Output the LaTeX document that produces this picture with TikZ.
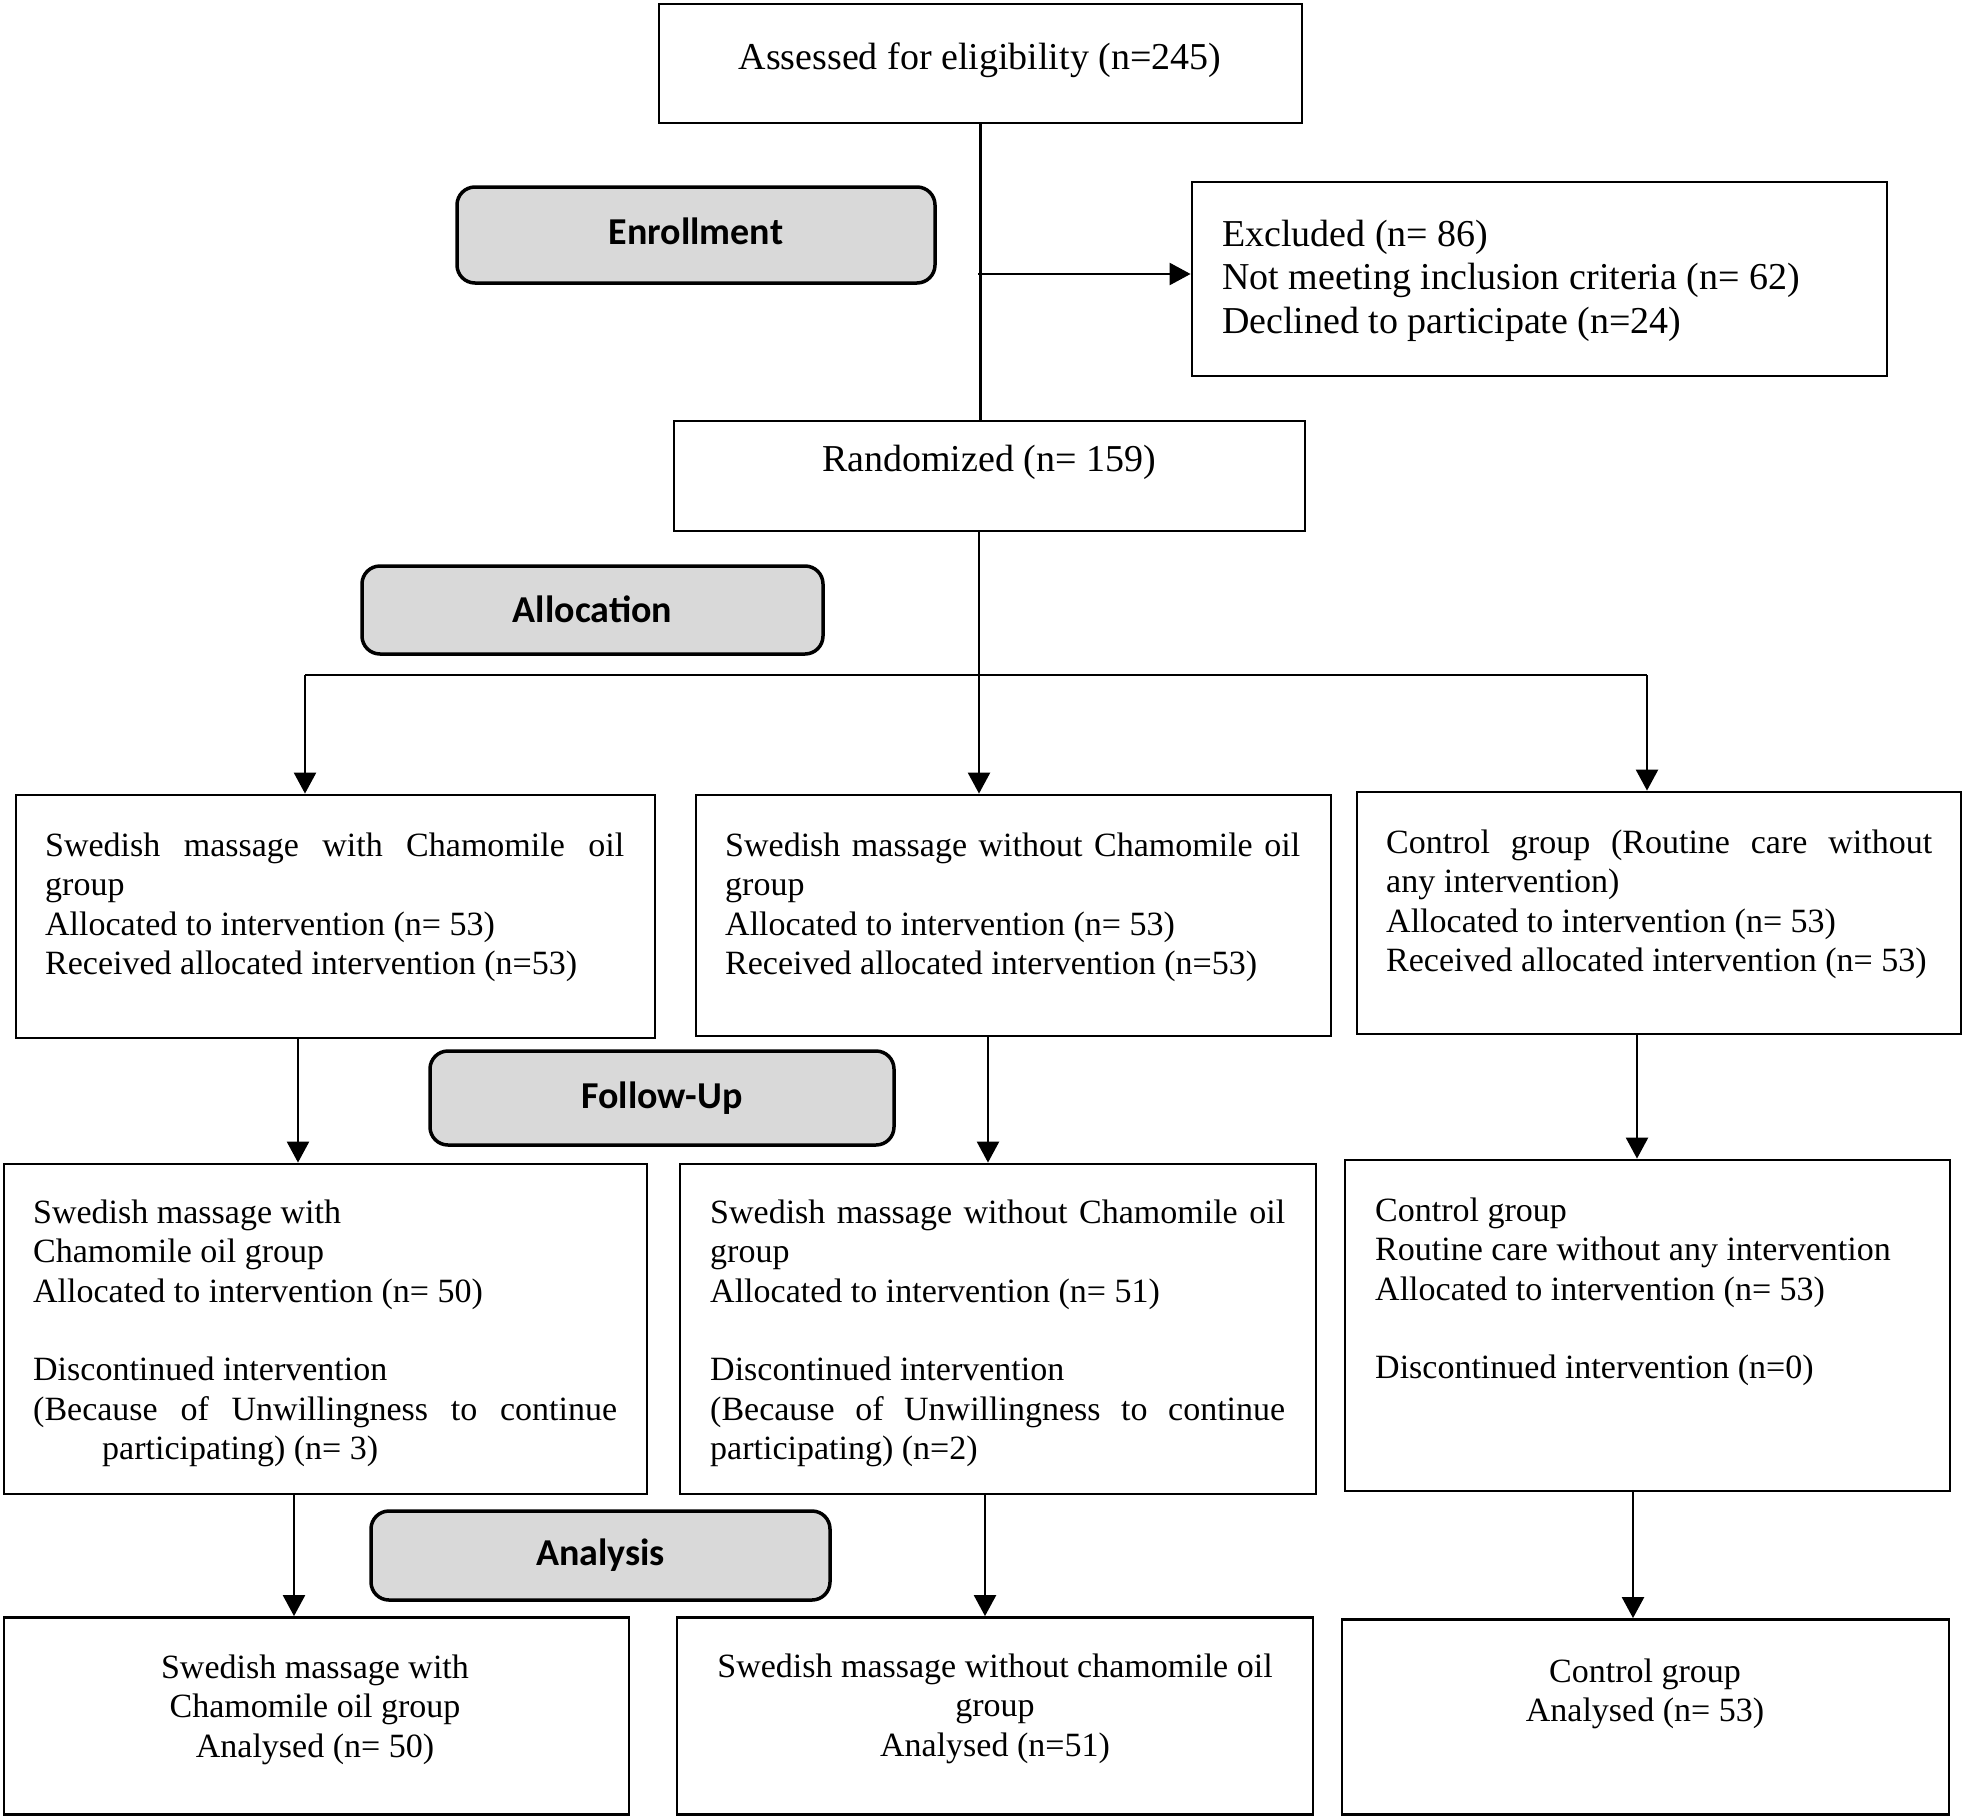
\documentclass[tikz,border=0pt]{standalone}
\usepackage{fontspec}
\setmainfont{Liberation Serif}
\newfontfamily\labfont{Carlito}
\usetikzlibrary{arrows.meta}
\definecolor{stagegray}{HTML}{D9D9D9}
\newcommand{\topstrut}{\rule{0pt}{30pt}}
\newcommand{\lowstrut}{\rule{0pt}{27pt}}
\begin{document}
\begin{tikzpicture}[x=1pt,y=-1pt,
  box/.style={draw=black,line width=2.8pt,fill=white,inner sep=0pt,rectangle},
  stage/.style={draw=black,line width=3.5pt,fill=stagegray,rounded corners=18pt,inner sep=0pt,
     font=\labfont\bfseries\fontsize{38}{40}\selectfont},
  toptxt/.style={inner sep=0pt,anchor=north west,align=left,font=\fontsize{38}{43.7}\selectfont},
  lowtxt/.style={inner sep=0pt,anchor=north west,align=left,font=\fontsize{34}{39.4}\selectfont},
  ctop/.style={inner sep=0pt,anchor=north,align=center,font=\fontsize{38}{43.7}\selectfont},
  clow/.style={inner sep=0pt,anchor=north,align=center,font=\fontsize{34}{39.4}\selectfont},
  line/.style={line width=2.4pt},
  arr/.style={line width=2.4pt,-{Triangle[width=22pt,length=21pt]}}]
\useasboundingbox (0,0) rectangle (1965,1820);
% boxes
\node[box,minimum width=643,minimum height=119] (assess) at (980.5,63.5) {};
\node[box,minimum width=695,minimum height=194] (excl) at (1539.5,279) {};
\node[box,minimum width=631,minimum height=110] (rand) at (989.5,476) {};
\node[box,minimum width=639,minimum height=243] (r1L) at (335.5,916.5) {};
\node[box,minimum width=635,minimum height=241] (r1M) at (1013.5,915.5) {};
\node[box,minimum width=604,minimum height=242] (r1R) at (1659,913) {};
\node[box,minimum width=643,minimum height=330] (r2L) at (325.5,1329) {};
\node[box,minimum width=636,minimum height=330] (r2M) at (998,1329) {};
\node[box,minimum width=605,minimum height=331] (r2R) at (1647.5,1325.5) {};
\node[box,minimum width=625,minimum height=197] (r3L) at (316.5,1716) {};
\node[box,minimum width=636,minimum height=197] (r3M) at (995,1716) {};
\node[box,minimum width=607,minimum height=195] (r3R) at (1645.5,1717) {};
% stage labels
\node[stage,minimum width=478,minimum height=96] (enroll) at (696,235) {\raisebox{7pt}{Enrollment}};
\node[stage,minimum width=461,minimum height=88] (alloc) at (592.5,610) {\raisebox{2pt}{Allocation}};
\node[stage,minimum width=464,minimum height=94] (follow) at (662,1098) {\raisebox{3pt}{Follow-Up}};
\node[stage,minimum width=459,minimum height=89] (analysis) at (600.5,1555.5) {\raisebox{-1pt}{Analysis}};
% texts
\node[ctop] (tAssess) at (980,39) {\topstrut Assessed for eligibility (n=245)};
\node[toptxt] (tExcl) at (1222,216) {\topstrut Excluded (n= 86)\\
  Not meeting inclusion criteria (n= 62)\\
  Declined to participate (n=24)};
\node[ctop] (tRand) at (989,441) {\topstrut Randomized (n= 159)};
\node[lowtxt] (t1L) at (45,829) {\lowstrut\makebox[579pt][s]{Swedish massage with Chamomile oil}\\
  group\\
  Allocated to intervention (n= 53)\\
  Received allocated intervention (n=53)};
\node[lowtxt] (t1M) at (725,829) {\lowstrut\makebox[575pt][s]{Swedish massage without Chamomile oil}\\
  group\\
  Allocated to intervention (n= 53)\\
  Received allocated intervention (n=53)};
\node[lowtxt] (t1R) at (1386,826) {\lowstrut\makebox[546pt][s]{Control group (Routine care without}\\
  any intervention)\\
  Allocated to intervention (n= 53)\\
  Received allocated intervention (n= 53)};
\node[lowtxt] (t2L) at (33,1196) {\lowstrut Swedish massage with\\
  Chamomile oil group\\
  Allocated to intervention (n= 50)\\
  ~\\
  Discontinued intervention\\
  \makebox[584pt][s]{(Because of Unwillingness to continue}\\
  \hspace*{69pt}participating) (n= 3)};
\node[lowtxt] (t2M) at (710,1196) {\lowstrut\makebox[575pt][s]{Swedish massage without Chamomile oil}\\
  group\\
  Allocated to intervention (n= 51)\\
  ~\\
  Discontinued intervention\\
  \makebox[575pt][s]{(Because of Unwillingness to continue}\\
  participating) (n=2)};
\node[lowtxt] (t2R) at (1375,1194) {\lowstrut Control group\\
  Routine care without any intervention\\
  Allocated to intervention (n= 53)\\
  ~\\
  Discontinued intervention (n=0)};
\node[clow] (t3L) at (315,1651) {\lowstrut Swedish massage with\\
  Chamomile oil group\\
  Analysed (n= 50)};
\node[clow] (t3M) at (995,1650) {\lowstrut Swedish massage without chamomile oil\\
  group\\
  Analysed (n=51)};
\node[clow] (t3R) at (1645,1655) {\lowstrut Control group\\
  Analysed (n= 53)};
% connectors
\coordinate (ex0) at (978,274);
\coordinate (br) at (979,675);
\coordinate (bL) at (305,675);
\coordinate (bR) at (1647,675);
\draw[line] (assess.south) -- (assess.south |- rand.north);
\draw[arr] (ex0) -- (ex0 -| excl.west);
\draw[line] (br |- rand.south) -- (br);
\draw[line] (bL) -- (bR);
\draw[arr] (bL) -- (bL |- r1L.north);
\draw[arr] (br) -- (br |- r1M.north);
\draw[arr] (bR) -- (bR |- r1R.north);
\draw[arr] ([xshift=-37.5pt]r1L.south) -- ([xshift=-37.5pt]r1L.south |- r2L.north);
\draw[arr] ([xshift=-25.5pt]r1M.south) -- ([xshift=-25.5pt]r1M.south |- r2M.north);
\draw[arr] ([xshift=-22pt]r1R.south) -- ([xshift=-22pt]r1R.south |- r2R.north);
\draw[arr] ([xshift=-31.5pt]r2L.south) -- ([xshift=-31.5pt]r2L.south |- r3L.north);
\draw[arr] ([xshift=-13pt]r2M.south) -- ([xshift=-13pt]r2M.south |- r3M.north);
\draw[arr] ([xshift=-14.5pt]r2R.south) -- ([xshift=-14.5pt]r2R.south |- r3R.north);
\end{tikzpicture}
\end{document}
